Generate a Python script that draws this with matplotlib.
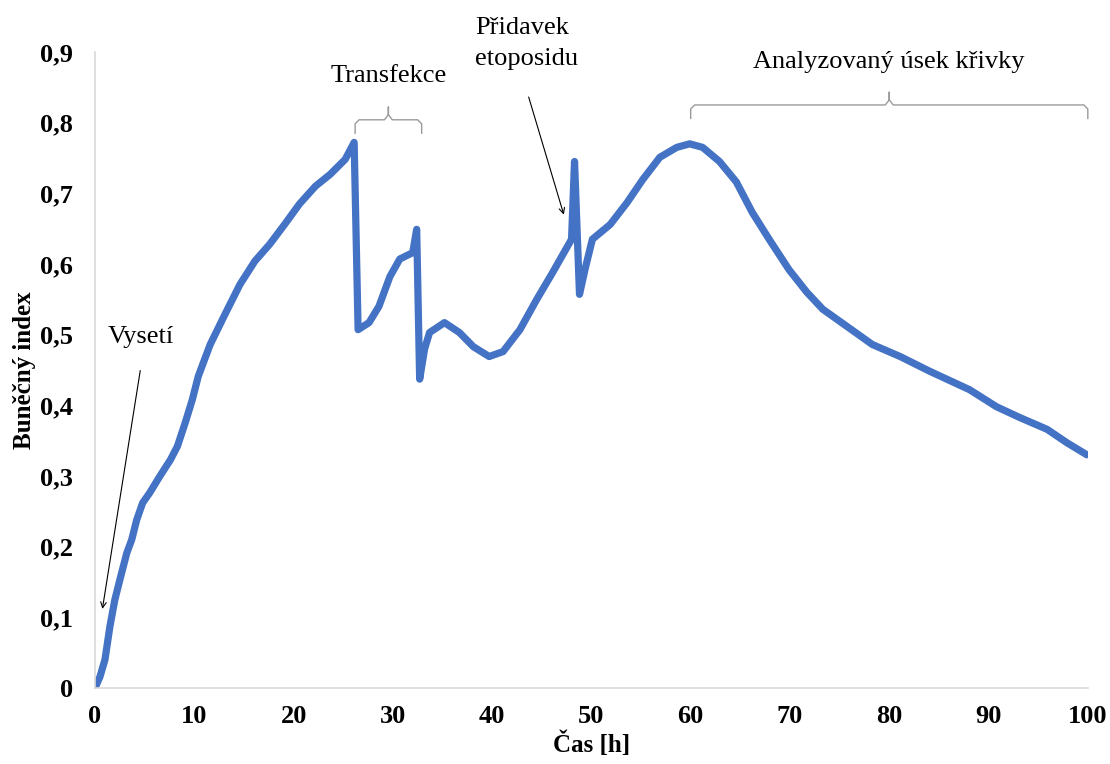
import matplotlib
matplotlib.use("Agg")
import matplotlib.pyplot as plt

# Data (time [h], cell index)
time_h = [0.0, 0.5, 1.0, 1.5, 2.0, 2.5, 3.2, 3.7, 4.2, 4.8, 5.5, 6.5, 7.6, 8.3,
          9.1, 9.8, 10.4, 11.6, 13.1, 14.6, 16.1, 17.6, 19.1, 20.6, 22.2, 23.7,
          25.2, 26.1,
          26.3, 26.5, 27.6, 28.6, 29.7, 30.7, 32.0, 32.4,
          32.7, 33.2, 33.7, 35.2, 36.7, 38.1, 39.7, 41.1, 42.8, 44.5, 46.1, 48.0,
          48.3, 48.8, 49.4, 50.1, 51.9, 53.6, 55.2, 56.9, 58.6, 59.9, 61.2, 62.9,
          64.6, 66.2, 67.9, 69.9, 71.7, 73.3, 75.7, 78.3, 81.1, 84.1, 88.1,
          90.8, 93.1, 95.9, 97.9, 99.9]
cell_index = [0.0, 0.016, 0.04, 0.087, 0.125, 0.153, 0.191, 0.21, 0.238, 0.262,
              0.276, 0.299, 0.323, 0.342, 0.376, 0.408, 0.441, 0.486, 0.529, 0.571,
              0.604, 0.628, 0.656, 0.685, 0.71, 0.727, 0.748, 0.772,
              0.64, 0.507, 0.517, 0.54, 0.582, 0.607, 0.616, 0.649,
              0.437, 0.48, 0.503, 0.517, 0.503, 0.483, 0.469, 0.476, 0.507, 0.55,
              0.588, 0.635,
              0.745, 0.557, 0.595, 0.635, 0.656, 0.687, 0.72, 0.751, 0.765, 0.77,
              0.765, 0.745, 0.716, 0.673, 0.635, 0.592, 0.56, 0.536, 0.512, 0.486,
              0.469, 0.448, 0.422, 0.398, 0.383, 0.366, 0.347, 0.33]

x_ticks = [0, 10, 20, 30, 40, 50, 60, 70, 80, 90, 100]
y_ticks = [0, 0.1, 0.2, 0.3, 0.4, 0.5, 0.6, 0.7, 0.8, 0.9]
y_tick_labels = ["0", "0,1", "0,2", "0,3", "0,4", "0,5", "0,6", "0,7", "0,8", "0,9"]

plt.rcParams['font.family'] = ['Liberation Serif', 'DejaVu Serif']

fig = plt.figure(figsize=(11.1, 7.64), dpi=100)
ax = fig.add_axes([0.0856, 0.0995, 0.8944, 0.8325])

ax.plot(time_h, cell_index, color="#4472C4", lw=5.2, solid_capstyle="round",
        solid_joinstyle="round")

ax.set_xlim(0, 100)
ax.set_ylim(0, 0.9)
ax.set_xticks(x_ticks)
ax.set_xticklabels([str(t) for t in x_ticks])
ax.set_yticks(y_ticks)
ax.set_yticklabels(y_tick_labels)
ax.tick_params(length=0, labelsize=19)
ax.tick_params(axis='x', pad=12)
ax.tick_params(axis='y', pad=16)
for lab in ax.get_xticklabels() + ax.get_yticklabels():
    lab.set_fontweight("bold")

for s in ["top", "right"]:
    ax.spines[s].set_visible(False)
for s in ["left", "bottom"]:
    ax.spines[s].set_color("#d9d9d9")
    ax.spines[s].set_linewidth(1.2)

ax.set_xlabel("Čas [h]", fontsize=18, fontweight="bold", labelpad=3)
ax.set_ylabel("Buněčný index", fontsize=18, fontweight="bold", labelpad=3)

# Annotations
txt_kw = dict(fontsize=19, color="black", va="center")
ax.text(4.6, 0.497, "Vysetí", ha="center", **txt_kw)
ax.annotate("", xy=(0.7, 0.108), xytext=(4.6, 0.453),
            arrowprops=dict(arrowstyle="->", lw=0.8, color="black"))

ax.text(29.6, 0.866, "Transfekce", ha="center", clip_on=False, **txt_kw)
ax.text(38.3, 0.912, "Přidavek\netoposidu", ha="left", multialignment="left",
        clip_on=False, linespacing=1.55, **txt_kw)
ax.annotate("", xy=(47.3, 0.666), xytext=(43.6, 0.84),
            arrowprops=dict(arrowstyle="->", lw=0.8, color="black"))

ax.text(80.0, 0.886, "Analyzovaný úsek křivky", ha="center", clip_on=False,
        **txt_kw)


def brace(x0, x1, y, h, tip):
    xm = (x0 + x1) / 2
    r = 0.4
    xs = [x0, x0, x0 + r, xm - r, xm, xm, xm, xm + r, x1 - r, x1, x1]
    ys = [y - h, y - h * 0.3, y, y, y + tip * 0.4, y + tip, y + tip * 0.4, y, y,
          y - h * 0.3, y - h]
    ax.plot(xs, ys, color="#9a9a9a", lw=1.0, clip_on=False)


brace(26.2, 32.9, 0.804, 0.019, 0.018)
brace(60.0, 100.0, 0.825, 0.019, 0.018)

fig.savefig("out.png", dpi=100, facecolor="white")
